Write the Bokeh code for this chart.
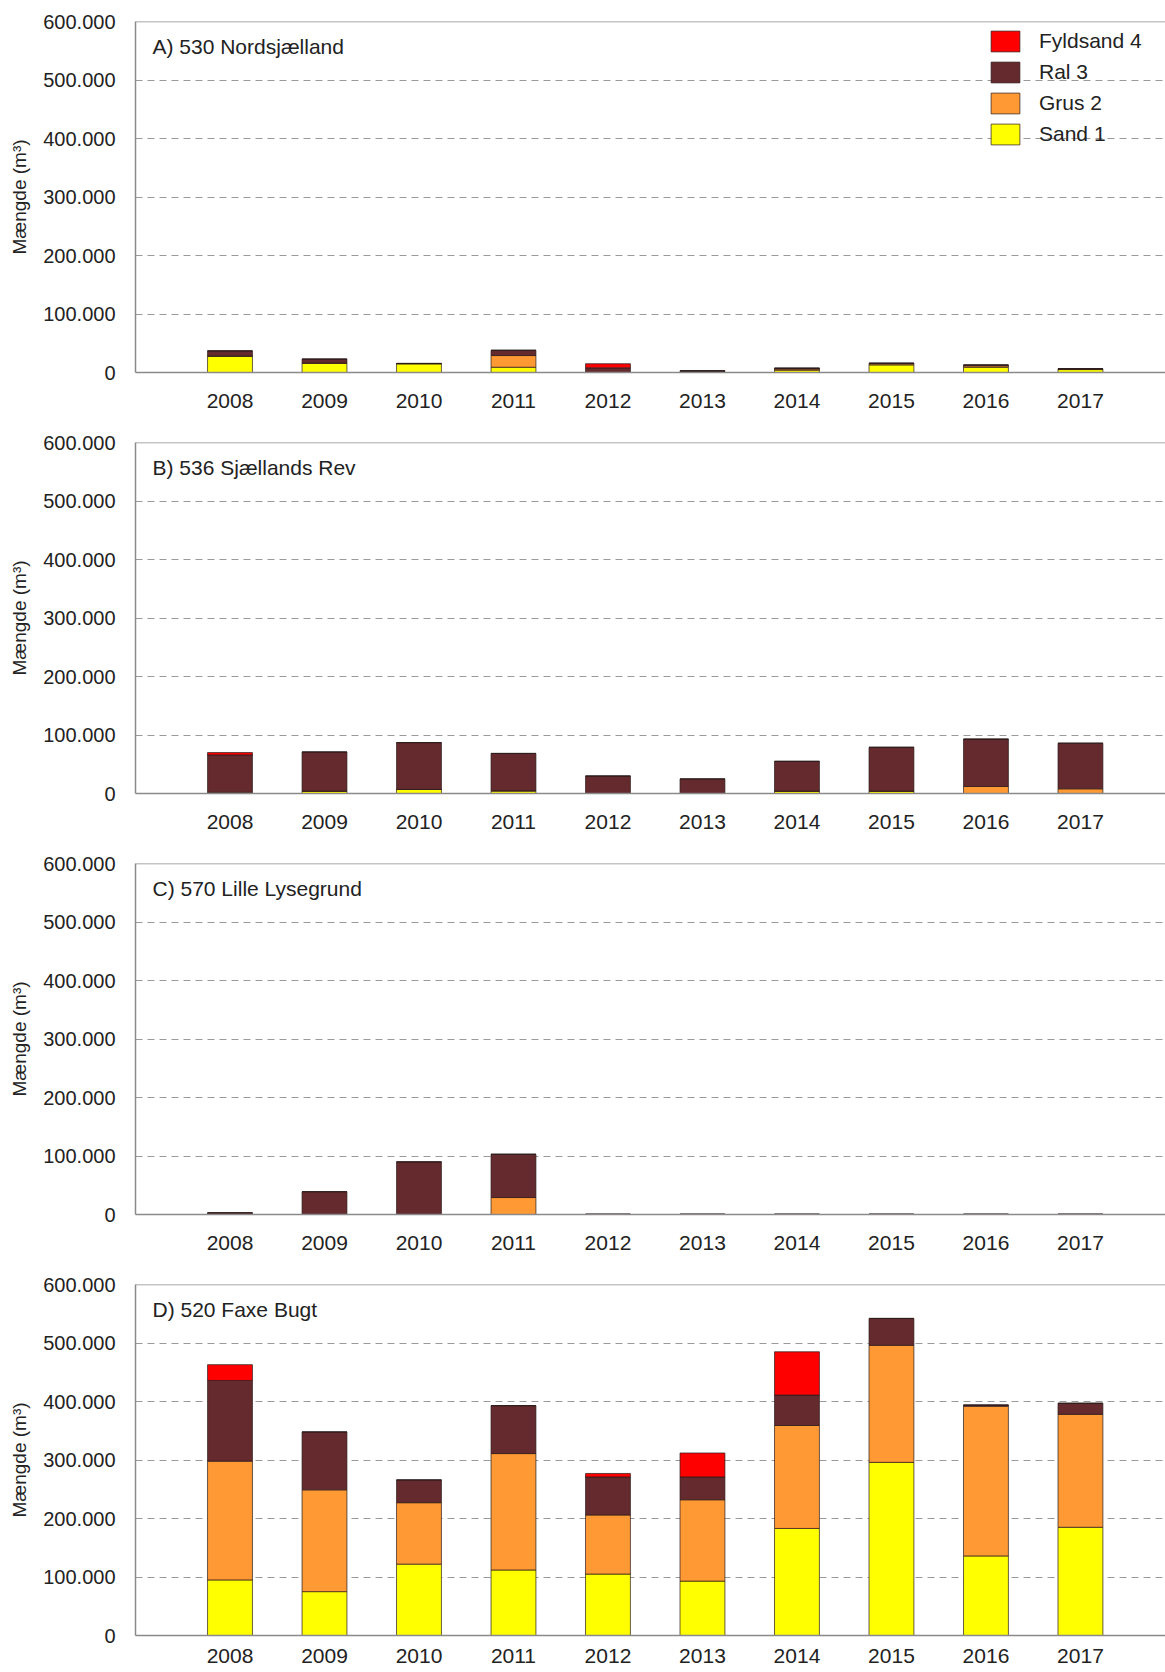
from bokeh.plotting import figure
from bokeh.layouts import column
from bokeh.models import Range1d, FixedTicker, Span, Label, Legend, LegendItem, ColumnDataSource
from bokeh.embed import file_html
from bokeh.resources import INLINE

years = ["2008", "2009", "2010", "2011", "2012", "2013", "2014", "2015", "2016", "2017"]
materials = ["Sand 1", "Grus 2", "Ral 3", "Fyldsand 4"]
colors = ["#FFFF00", "#FF9933", "#652A2D", "#FF0000"]
y_ticks = [0, 100000, 200000, 300000, 400000, 500000, 600000]
y_tick_labels = ["0", "100.000", "200.000", "300.000", "400.000", "500.000", "600.000"]
y_label = "Mængde (m³)"

# A) 530 Nordsjælland
A_title = "A) 530 Nordsjælland"
A_sand = [28000, 16000, 15000, 9000, 0, 2000, 4000, 13000, 9000, 5000]
A_grus = [0, 0, 0, 20000, 0, 0, 2000, 2000, 2500, 1000]
A_ral = [9000, 7000, 500, 9000, 8000, 1000, 1500, 1000, 1500, 500]
A_fyld = [0, 0, 0, 0, 7000, 0, 0, 0, 0, 0]

# B) 536 Sjællands Rev
B_title = "B) 536 Sjællands Rev"
B_sand = [0, 4000, 7000, 4000, 0, 0, 4000, 4000, 0, 0]
B_grus = [2000, 0, 0, 1000, 0, 0, 0, 0, 12000, 8000]
B_ral = [64000, 67000, 80000, 63500, 30000, 25000, 51000, 75000, 81000, 78000]
B_fyld = [4000, 0, 0, 0, 0, 0, 0, 0, 0, 0]

# C) 570 Lille Lysegrund
C_title = "C) 570 Lille Lysegrund"
C_sand = [0, 0, 0, 0, 0, 0, 0, 0, 0, 0]
C_grus = [0, 0, 0, 29000, 0, 0, 0, 0, 0, 0]
C_ral = [3000, 39000, 90000, 74000, 600, 600, 600, 600, 600, 600]
C_fyld = [0, 0, 0, 0, 0, 0, 0, 0, 0, 0]

# D) 520 Faxe Bugt
D_title = "D) 520 Faxe Bugt"
D_sand = [95000, 75000, 122000, 112000, 105000, 93000, 183000, 296000, 136000, 185000]
D_grus = [203000, 174000, 105000, 199000, 101000, 139000, 176000, 200000, 256000, 193000]
D_ral = [138000, 99000, 39000, 82000, 65000, 39000, 52000, 46000, 2000, 19000]
D_fyld = [27000, 0, 0, 0, 6000, 41000, 74000, 0, 0, 0]

panels = [
    (A_title, A_sand, A_grus, A_ral, A_fyld),
    (B_title, B_sand, B_grus, B_ral, B_fyld),
    (C_title, C_sand, C_grus, C_ral, C_fyld),
    (D_title, D_sand, D_grus, D_ral, D_fyld),
]

FONT = "Liberation Sans"
TXT = "#222222"
figs = []
for i, (title, sand, grus, ral, fyld) in enumerate(panels):
    last = i == len(panels) - 1
    src = ColumnDataSource(data=dict(
        x=list(range(len(years))),
        **{materials[0]: sand, materials[1]: grus, materials[2]: ral, materials[3]: fyld}
    ))
    p = figure(width=1165, height=409 if last else 421,
               x_range=Range1d(-1, 9.9), y_range=Range1d(0, 600000),
               output_backend="svg", toolbar_location=None,
               min_border_left=135, min_border_right=0, min_border_top=21,
               min_border_bottom=37 if last else 49)
    p.outline_line_color = None
    p.background_fill_color = "white"
    p.border_fill_color = "white"

    rs = p.vbar_stack(materials, x="x", width=0.475, source=src,
                      fill_color=colors, line_color="#2a1a1a", line_width=0.7)

    # axes
    p.xaxis.ticker = FixedTicker(ticks=list(range(len(years))))
    p.xaxis.major_label_overrides = {j: y for j, y in enumerate(years)}
    p.yaxis.ticker = FixedTicker(ticks=y_ticks)
    p.yaxis.major_label_overrides = dict(zip(y_ticks, y_tick_labels))
    for ax in (p.xaxis, p.yaxis):
        ax.major_tick_in = 0
        ax.major_tick_out = 0
        ax.minor_tick_line_color = None
        ax.axis_line_color = "#8a8a8a"
        ax.axis_line_width = 1.5
        ax.major_label_text_font = FONT
        ax.major_label_text_color = TXT
    p.yaxis.major_label_text_font_size = "20px"
    p.xaxis.major_label_text_font_size = "21px"
    p.xaxis.major_label_standoff = 13 if last else 21
    p.yaxis.major_label_standoff = 20
    p.yaxis.axis_label = y_label
    p.yaxis.axis_label_text_font = FONT
    p.yaxis.axis_label_text_font_size = "19px"
    p.yaxis.axis_label_text_font_style = "normal"
    p.yaxis.axis_label_text_color = TXT
    p.yaxis.axis_label_standoff = 10

    p.xgrid.visible = False
    p.ygrid.ticker = FixedTicker(ticks=y_ticks[1:-1])
    p.ygrid.grid_line_color = "#9a9a9a"
    p.ygrid.grid_line_dash = "7 5"
    p.ygrid.grid_line_width = 1

    p.add_layout(Span(location=y_ticks[-1], dimension="width",
                      line_color="#8a8a8a", line_width=1.5))

    p.add_layout(Label(x=17, y=326, x_units="screen", y_units="screen", text=title,
                       text_font=FONT, text_font_size="21px", text_color=TXT,
                       text_baseline="middle"))

    if i == 0:
        items = [LegendItem(label=materials[k], renderers=[rs[k]]) for k in (3, 2, 1, 0)]
        leg = Legend(items=items, location=(852, 225), padding=0, margin=0,
                     border_line_color=None, background_fill_alpha=0,
                     glyph_width=36, glyph_height=26, label_height=26, spacing=5,
                     label_standoff=16, label_text_font=FONT,
                     label_text_font_size="21px", label_text_color=TXT)
        p.add_layout(leg)
    figs.append(p)

layout = column(*figs)
open("out.html", "w").write(file_html(layout, INLINE))
